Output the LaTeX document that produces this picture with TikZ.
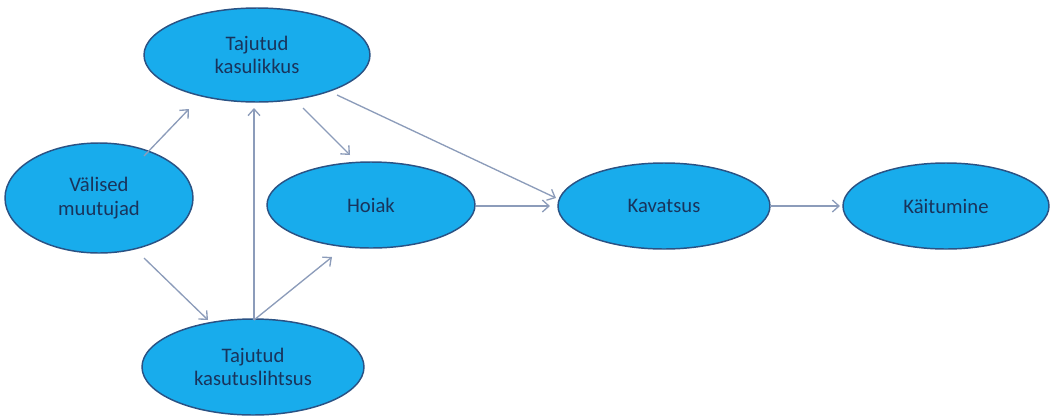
\documentclass[tikz,border=0pt]{standalone}
\usepackage{fontspec}
\setmainfont{Carlito}
\usetikzlibrary{shapes.geometric,arrows.meta,calc}
\definecolor{ellfill}{RGB}{24,172,236}
\definecolor{elldraw}{RGB}{42,82,132}
\definecolor{elltext}{RGB}{24,52,92}
\definecolor{arrcol}{RGB}{140,156,186}
\tikzset{
  ell/.style={ellipse, draw=elldraw, line width=1.1pt, fill=ellfill, inner sep=0pt,
    text=elltext, align=center, font=\fontsize{15.5}{17.5}\selectfont},
  conn/.style={draw=arrcol, line width=1pt, -{Straight Barb[length=5pt,width=9pt,line width=1pt]}}
}
\begin{document}
\begin{tikzpicture}[x=0.75pt,y=-0.75pt]
\useasboundingbox (0,0) rectangle (1054,419);
\node[ell, minimum width=169.5pt, minimum height=70.5pt] (kas) at (257,55) {\raisebox{-3pt}{\parbox{4cm}{\centering Tajutud\\kasulikkus}}};
\node[ell, minimum width=141pt, minimum height=82.5pt] (val) at (99,198) {V\"alised\\muutujad};
\node[ell, minimum width=156pt, minimum height=64.5pt] (hoi) at (371,205) {Hoiak};
\node[ell, minimum width=159pt, minimum height=64.5pt] (kav) at (664,206) {Kavatsus};
\node[ell, minimum width=154.5pt, minimum height=64.5pt] (kai) at (946,206) {K\"aitumine};
\node[ell, minimum width=166.5pt, minimum height=72pt] (lih) at (253,367) {\raisebox{-3pt}{\parbox{4cm}{\centering Tajutud\\kasutuslihtsus}}};
\draw[conn] ($(val)+(45,-42)$) -- ($(kas)+(-68,54)$);
\draw[conn] ($(val)+(45,60)$) -- ($(lih)+(-45,-47)$);
\draw[conn] ($(lih)+(1,-47)$) -- ($(kas)+(-3,53)$);
\draw[conn] ($(lih)+(1,-47)$) -- ($(hoi)+(-39,52)$);
\draw[conn] ($(kas)+(46,53)$) -- ($(hoi)+(-21,-50)$);
\draw[conn] ($(kas)+(80,40)$) -- ($(kav)+(-108,-8)$);
\draw[conn] ($(hoi)+(105,1)$) -- ($(kav)+(-114,0)$);
\draw[conn] ($(kav)+(106,0)$) -- ($(kai)+(-106,0)$);
\end{tikzpicture}
\end{document}
